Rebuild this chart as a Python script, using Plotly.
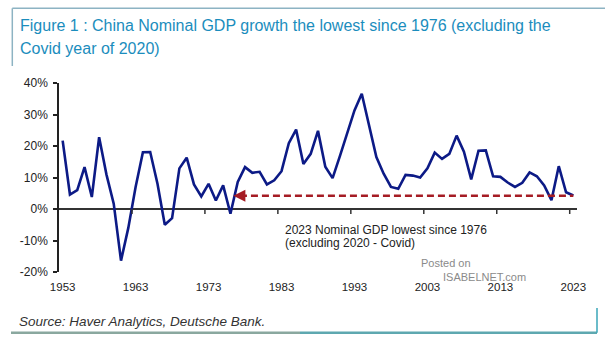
import plotly.graph_objects as go

years = list(range(1953, 2024))
growth = [21.7, 4.6, 6.0, 13.3, 3.8, 22.8, 11.0, 1.7, -16.4, -6.0,
          7.0, 18.0, 18.1, 8.0, -5.0, -2.9, 12.9, 16.3, 7.8, 4.0,
          8.0, 2.7, 7.5, -1.5, 8.6, 13.3, 11.5, 11.8, 7.8, 9.1,
          12.0, 20.9, 25.2, 14.3, 17.5, 24.8, 13.4, 9.8, 16.8, 24.2,
          31.3, 36.6, 26.3, 16.5, 11.2, 7.0, 6.4, 10.8, 10.6, 10.0,
          12.9, 17.9, 15.9, 17.5, 23.3, 18.2, 9.4, 18.5, 18.6, 10.4,
          10.2, 8.4, 7.0, 8.3, 11.6, 10.4, 7.5, 2.8, 13.6, 5.3,
          4.3]
x_tick_years = [1953, 1963, 1973, 1983, 1993, 2003, 2013, 2023]
y_ticks = [-20, -10, 0, 10, 20, 30, 40]
y_tick_labels = ["-20%", "-10%", "0%", "10%", "20%", "30%", "40%"]
ref_level = 4.2
ref_from_year = 1976.4
ref_to_year = 2023

W, H = 605, 341
L, R, T, B = 59, 28, 83, 69
PW, PH = W - L - R, H - T - B


def px(xp):
    return (xp - L) / PW


def py(yp):
    return (H - B - yp) / PH


fig = go.Figure()

fig.add_trace(go.Scatter(
    x=years, y=growth, mode="lines",
    line=dict(color="#0c1a86", width=2.6),
    hoverinfo="x+y", showlegend=False))

# dashed reference line
fig.add_trace(go.Scatter(
    x=[ref_from_year + 0.9, ref_to_year], y=[ref_level, ref_level], mode="lines",
    line=dict(color="#a51c24", width=2.4, dash="7px,4px"),
    hoverinfo="skip", showlegend=False))

annotations = [
    dict(x=ref_from_year, y=ref_level, ax=ref_from_year + 1.6, ay=ref_level,
         xref="x", yref="y", axref="x", ayref="y", text="", showarrow=True,
         arrowhead=2, arrowsize=1.0, arrowwidth=2.4, arrowcolor="#a51c24"),
    dict(x=px(17.7), y=py(25.5), xref="paper", yref="paper", xanchor="left",
         yanchor="middle", showarrow=False,
         text="Figure 1 : China Nominal GDP growth the lowest since 1976 (excluding the",
         font=dict(family="Liberation Sans, Arial", size=16, color="#1b8dbd")),
    dict(x=px(17.7), y=py(48.1), xref="paper", yref="paper", xanchor="left",
         yanchor="middle", showarrow=False, text="Covid year of 2020)",
         font=dict(family="Liberation Sans, Arial", size=16, color="#1b8dbd")),
    dict(x=px(283.3), y=py(229.5), xref="paper", yref="paper", xanchor="left",
         yanchor="middle", showarrow=False, text="2023 Nominal GDP lowest since 1976",
         font=dict(family="Liberation Sans, Arial", size=12, color="#222222")),
    dict(x=px(283.3), y=py(242.5), xref="paper", yref="paper", xanchor="left",
         yanchor="middle", showarrow=False, text="(excluding 2020 - Covid)",
         font=dict(family="Liberation Sans, Arial", size=12, color="#222222")),
    dict(x=px(446), y=py(262.7), xref="paper", yref="paper", xanchor="center",
         yanchor="middle", showarrow=False, text="Posted on",
         font=dict(family="Liberation Sans, Arial", size=11, color="#8a8a8a")),
    dict(x=px(484), y=py(277), xref="paper", yref="paper", xanchor="center",
         yanchor="middle", showarrow=False, text="ISABELNET.com",
         font=dict(family="Liberation Sans, Arial", size=11, color="#8a8a8a")),
    dict(x=px(16.7), y=py(321.7), xref="paper", yref="paper", xanchor="left",
         yanchor="middle", showarrow=False,
         text="<i>Source: Haver Analytics, Deutsche Bank.</i>",
         font=dict(family="Liberation Sans, Arial", size=13.5, color="#333333")),
]

shapes = []
# x tick marks on zero line, between categories
for yr in x_tick_years[1:]:
    shapes.append(dict(type="line", xref="x", yref="y", x0=yr - 0.5, x1=yr - 0.5,
                       ysizemode="pixel", yanchor=0, y0=0, y1=-5,
                       line=dict(color="#333333", width=1.5)))
# title frame
shapes.append(dict(type="line", xref="paper", yref="paper", x0=px(12.3), x1=px(605),
                   y0=py(8.3), y1=py(8.3), line=dict(color="#8db3c3", width=1.5)))
shapes.append(dict(type="line", xref="paper", yref="paper", x0=px(12.3), x1=px(12.3),
                   y0=py(8.3), y1=py(66), line=dict(color="#8db3c3", width=1.5)))
# footer frame
shapes.append(dict(type="line", xref="paper", yref="paper", x0=px(11), x1=px(300),
                   y0=py(332.7), y1=py(332.7), line=dict(color="#8aa89f", width=2.5)))
shapes.append(dict(type="line", xref="paper", yref="paper", x0=px(300), x1=px(597),
                   y0=py(332.7), y1=py(332.7), line=dict(color="#5ea8b0", width=2.5)))
shapes.append(dict(type="line", xref="paper", yref="paper", x0=px(597), x1=px(597),
                   y0=py(308), y1=py(332.7), line=dict(color="#3aa6b8", width=1.5)))

fig.update_layout(
    width=W, height=H,
    margin=dict(l=L, r=R, t=T, b=B, pad=0),
    paper_bgcolor="white", plot_bgcolor="white",
    font=dict(family="Liberation Sans, Arial", color="#222222"),
    annotations=annotations, shapes=shapes,
    xaxis=dict(range=[1952.5, 2023.5], tickvals=x_tick_years,
               ticktext=[str(v) for v in x_tick_years], ticks="", showline=False,
               ticklabelstandoff=6,
               showgrid=False, zeroline=False, tickfont=dict(size=11.5, color="#222222")),
    yaxis=dict(range=[-20, 40], tickvals=y_ticks, ticktext=y_tick_labels,
               ticks="outside", ticklen=4, tickwidth=1.5, tickcolor="#222222",
               ticklabelstandoff=3,
               showline=True, linecolor="#222222", linewidth=1.5, showgrid=False,
               zeroline=True, zerolinecolor="#333333", zerolinewidth=2,
               tickfont=dict(size=12, color="#222222")),
)

fig.write_html("out.html")
